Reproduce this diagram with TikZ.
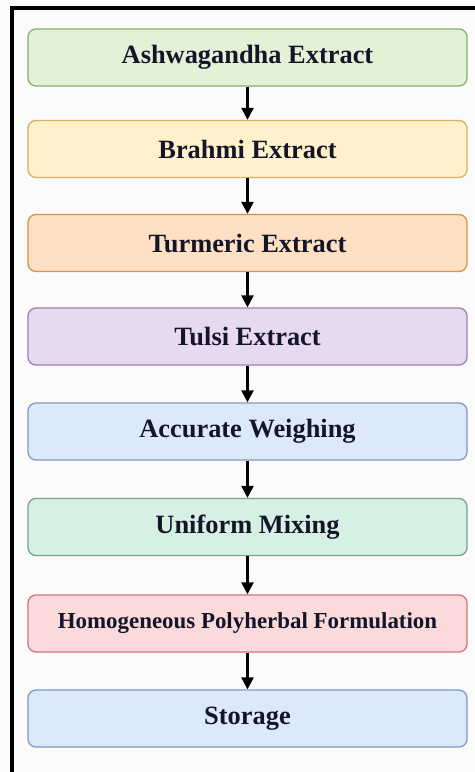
\documentclass[tikz,border=0pt]{standalone}
\usepackage{fontspec}
\setmainfont{Liberation Serif}
\usetikzlibrary{arrows.meta}
\definecolor{bgc}{HTML}{FBFBFB}
\definecolor{txt}{HTML}{15152A}
\definecolor{f1}{HTML}{E2F2D7}\definecolor{d1}{HTML}{86AE6E}
\definecolor{f2}{HTML}{FFF1CA}\definecolor{d2}{HTML}{D3B062}
\definecolor{f3}{HTML}{FFE0C2}\definecolor{d3}{HTML}{D29446}
\definecolor{f4}{HTML}{E6D9F0}\definecolor{d4}{HTML}{9A80B0}
\definecolor{f5}{HTML}{DCE9F8}\definecolor{d5}{HTML}{7E9CC0}
\definecolor{f6}{HTML}{D6F1E4}\definecolor{d6}{HTML}{6FA88C}
\definecolor{f7}{HTML}{FADADA}\definecolor{d7}{HTML}{D27474}
\tikzset{
  stepbox/.style={draw, rounded corners=8bp, line width=1.3bp, minimum width=439bp, minimum height=57bp, inner sep=0pt, text=txt, font=\fontsize{26.5}{31}\selectfont\bfseries},
  flowarrow/.style={draw=black, line width=2.4bp, -{Triangle[length=12bp,width=12bp]}},
}
\begin{document}
\begin{tikzpicture}[x=1bp,y=-1bp]
\fill[bgc] (0,0) rectangle (475,772);
\useasboundingbox (0,0) rectangle (475,772);
\draw[line width=4bp, miter limit=10] (12,775) -- (12,8) -- (478,8);
\node[stepbox, fill=f1, draw=d1] (n1) at (247.5,57.5) {Ashwagandha Extract};
\node[stepbox, fill=f2, draw=d2] (n2) at (247.5,149) {Brahmi Extract};
\node[stepbox, fill=f3, draw=d3] (n3) at (247.5,243) {Turmeric Extract};
\node[stepbox, fill=f4, draw=d4] (n4) at (247.5,336.5) {Tulsi Extract};
\node[stepbox, fill=f5, draw=d5] (n5) at (247.5,431.5) {Accurate Weighing};
\node[stepbox, fill=f6, draw=d6] (n6) at (247.5,527) {Uniform Mixing};
\node[stepbox, fill=f7, draw=d7, font=\fontsize{23}{28}\selectfont\bfseries] (n7) at (247.5,623.5) {Homogeneous Polyherbal Formulation};
\node[stepbox, fill=f5, draw=d5] (n8) at (247.5,718.5) {Storage};
\foreach \a/\b in {n1/n2,n2/n3,n3/n4,n4/n5,n5/n6,n6/n7,n7/n8}
  \draw[flowarrow] (\a.south) -- (\b.north);
\end{tikzpicture}
\end{document}
